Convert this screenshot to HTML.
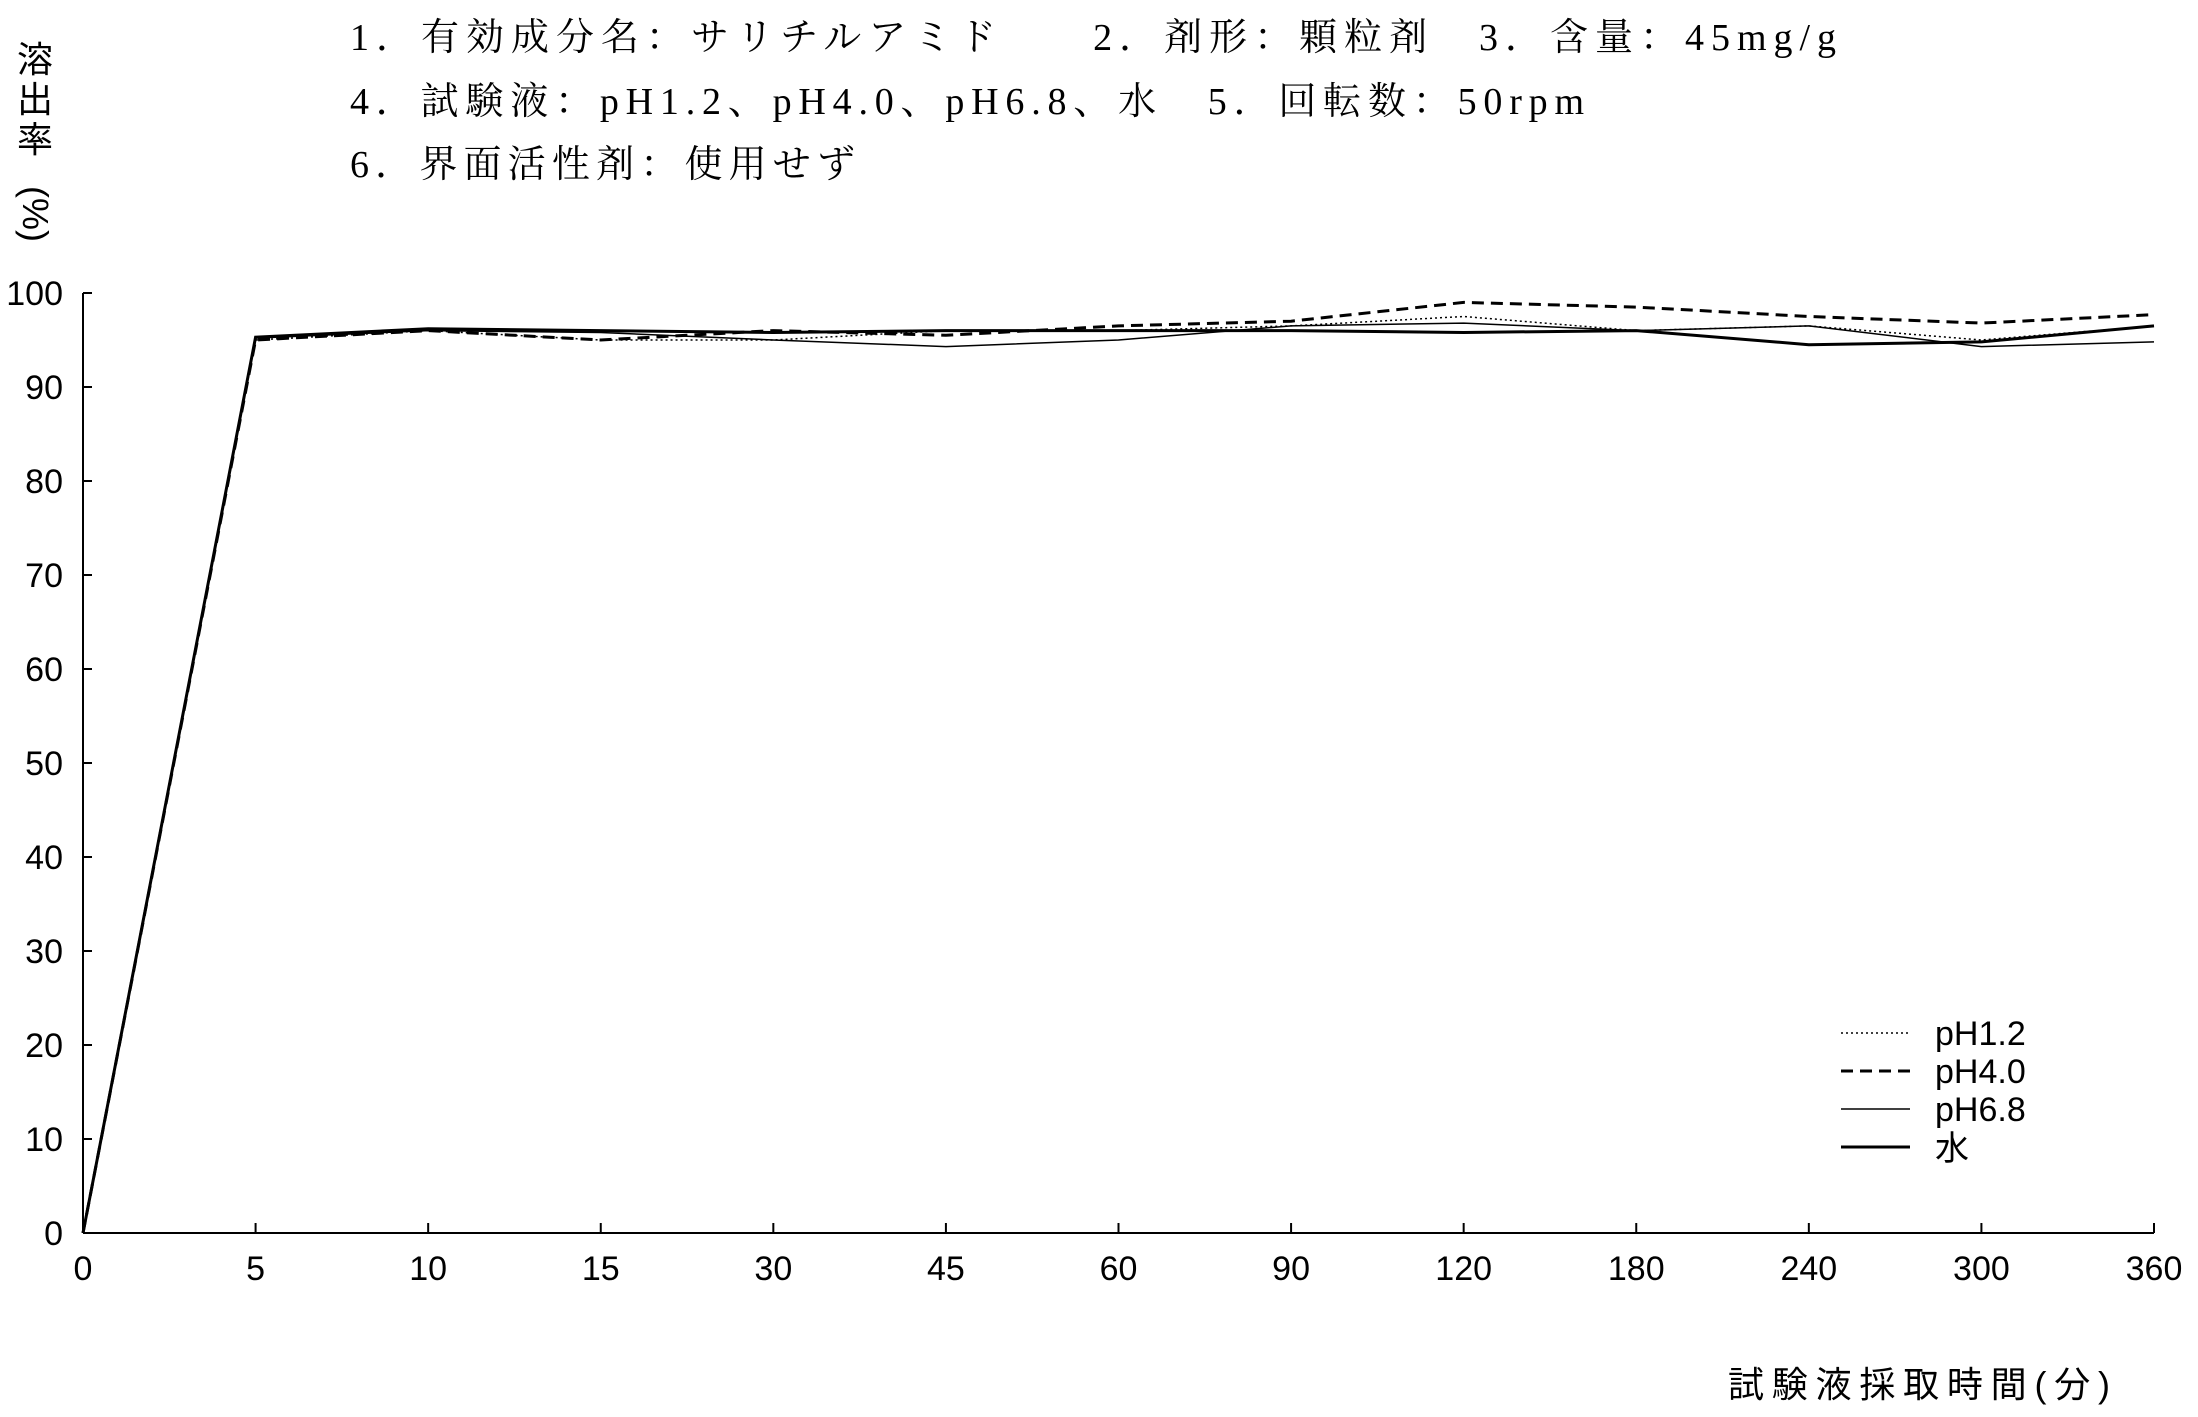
<!DOCTYPE html>
<html><head><meta charset="utf-8"><style>
body{margin:0;background:#fff;}
svg{display:block;}
text{font-family:"Liberation Sans","Noto Sans CJK JP",sans-serif;fill:#000;}
.t{font-family:"Liberation Serif","Noto Serif CJK SC","Noto Sans CJK JP",serif;font-size:38px;}
</style></head><body>
<svg id="chart" width="2198" height="1417" viewBox="0 0 2198 1417" xmlns="http://www.w3.org/2000/svg">
<g>
<text class="t" x="350" y="50" textLength="1486" lengthAdjust="spacing">1．有効成分名：サリチルアミド　　2．剤形：顆粒剤　3．含量：45mg/g</text>
<text class="t" x="350" y="114" textLength="1234" lengthAdjust="spacing">4．試験液：pH1.2、pH4.0、pH6.8、水　5．回転数：50rpm</text>
<text class="t" x="350" y="177" textLength="505" lengthAdjust="spacing">6．界面活性剤：使用せず</text>
</g>
<g font-size="36">
<text x="35" y="72" text-anchor="middle">溶</text>
<text x="35" y="112" text-anchor="middle">出</text>
<text x="35" y="152" text-anchor="middle">率</text>
<text x="35" y="226" text-anchor="middle" transform="rotate(90 35 214)">(%)</text>
</g>
<text x="1728" y="1397" font-size="36" textLength="382" lengthAdjust="spacing">試験液採取時間(分)</text>
<g id="axes"></g>
<g id="series"></g>
<g font-size="34">
<line x1="1841" y1="1033" x2="1910" y2="1033" stroke="#000" stroke-width="1.5" stroke-dasharray="2,3"/>
<text x="1935" y="1045">pH1.2</text>
<line x1="1841" y1="1071" x2="1910" y2="1071" stroke="#000" stroke-width="3" stroke-dasharray="12,7"/>
<text x="1935" y="1083">pH4.0</text>
<line x1="1841" y1="1109" x2="1910" y2="1109" stroke="#000" stroke-width="1.5"/>
<text x="1935" y="1121">pH6.8</text>
<line x1="1841" y1="1147" x2="1910" y2="1147" stroke="#000" stroke-width="3"/>
<text x="1935" y="1160">水</text>
</g>
</svg>
<script>
const categories=["0","5","10","15","30","45","60","90","120","180","240","300","360"];
const yTicks=[0,10,20,30,40,50,60,70,80,90,100];
const ph12=[0,95,96,95,95,96,96,96.5,97.5,96,96.5,95,96.5];
const ph40=[0,95,96,95,96,95.5,96.5,97,99,98.5,97.5,96.8,97.7];
const ph68=[0,95.2,96,95.8,95,94.3,95,96.5,96.8,96,96.5,94.3,94.8];
const water=[0,95.3,96.2,96,95.8,96,96,96,95.8,96,94.5,94.8,96.5];
const NS="http://www.w3.org/2000/svg";
const X0=83,X1=2154,Y0=1233,Y100=293;
function xs(i){return X0+(X1-X0)*i/(categories.length-1);}
function ys(v){return Y0+(Y100-Y0)*v/100;}
function mk(t,a,p){const e=document.createElementNS(NS,t);for(const k in a)e.setAttribute(k,a[k]);p.appendChild(e);return e;}
const ax=document.getElementById('axes');
let yl=mk('line',{x1:X0,y1:Y100,x2:X0,y2:Y0,stroke:'#000','stroke-width':2},ax);


let xl=mk('line',{x1:X0,y1:Y0,x2:X1,y2:Y0,stroke:'#000','stroke-width':2},ax);


yTicks.forEach(v=>{
 mk('line',{x1:X0,y1:ys(v),x2:X0+9,y2:ys(v),stroke:'#000','stroke-width':2},ax);
 const t=mk('text',{x:X0-20,y:ys(v)+12,'text-anchor':'end','font-size':34},ax);t.textContent=v;
 
 
});
categories.forEach((c,i)=>{
 mk('line',{x1:xs(i),y1:Y0,x2:xs(i),y2:Y0-10,stroke:'#000','stroke-width':2},ax);
 const t=mk('text',{x:xs(i),y:Y0+47,'text-anchor':'middle','font-size':34},ax);t.textContent=c;
 
 
});
const sg=document.getElementById('series');
function line(d,name,w,dash){
 const p=mk('polyline',{points:d.map((v,i)=>xs(i)+','+ys(v)).join(' '),fill:'none',stroke:'#000','stroke-width':w},sg);
 if(dash)p.setAttribute('stroke-dasharray',dash);
 
 
}
line(ph12,'series-ph1-2',1.5,'2,3');
line(ph68,'series-ph6-8',1.5,null);
line(ph40,'series-ph4-0',3,'12,7');
line(water,'series-water',3,null);
</script>
</body></html>
